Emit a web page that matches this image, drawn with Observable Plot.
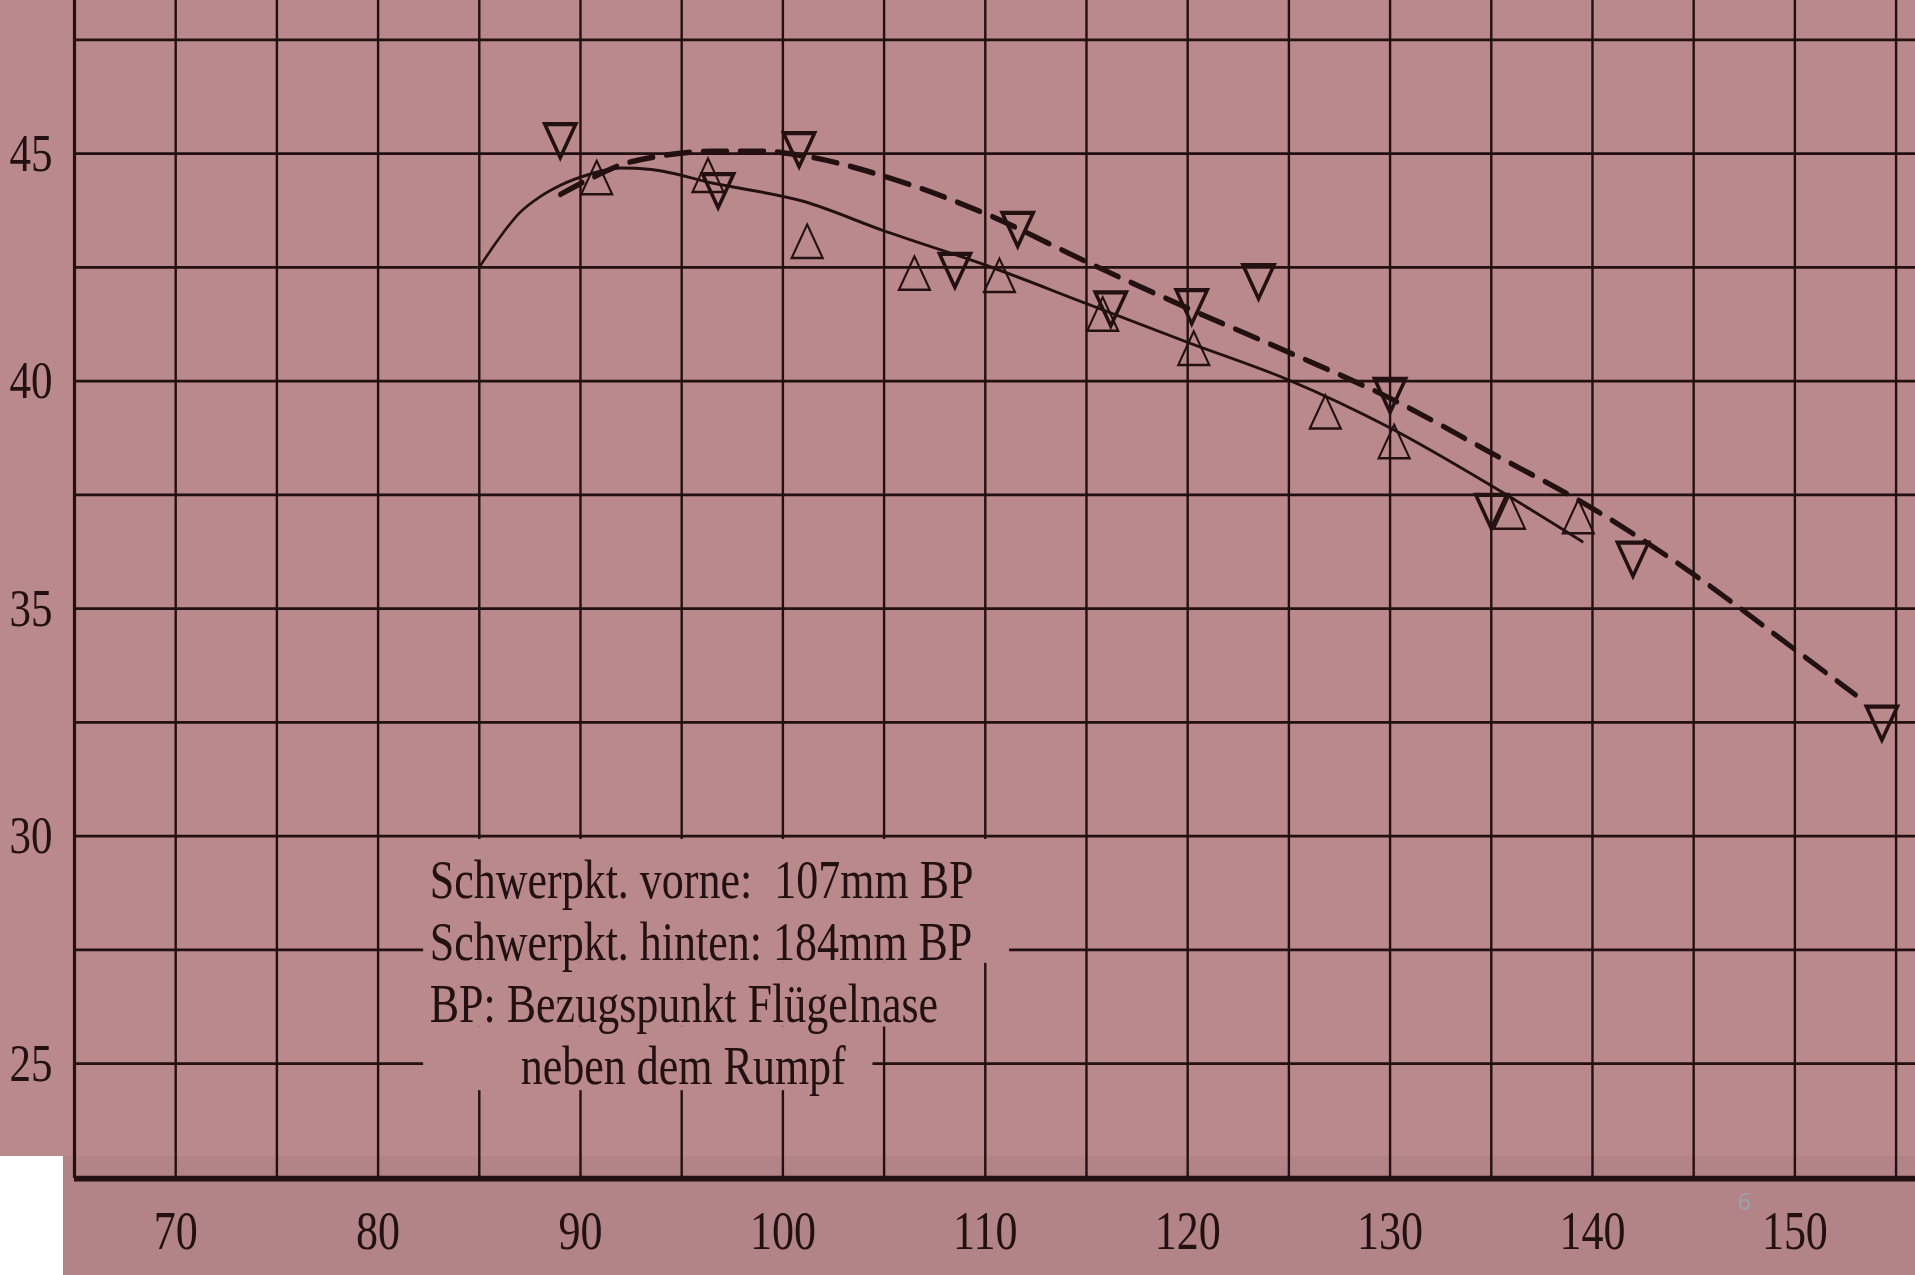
<!DOCTYPE html>
<html>
<head>
<meta charset="utf-8">
<script src="https://cdn.jsdelivr.net/npm/d3@7"></script>
<script src="https://cdn.jsdelivr.net/npm/@observablehq/plot@0.6"></script>
<style>
html, body { margin: 0; padding: 0; width: 1915px; height: 1275px; overflow: hidden; background: #ba898c; }
#strip { position: absolute; left: 63px; top: 1156px; width: 1852px; height: 119px; background: #b38487; }
#corner { position: absolute; left: 0; top: 1156px; width: 63px; height: 119px; background: #ffffff; }
#page { position: absolute; left: 1738px; top: 1190px; font: 23px "Noto Sans"; line-height: 1; color: #9ba2a7; }
#chart { position: absolute; left: 0; top: 0; width: 1915px; }
#chart svg { transform: scaleY(1.25); transform-origin: 0 0; background: transparent; max-width: none; }
</style>
</head>
<body>
<div id="strip"></div>
<div id="corner"></div>
<div id="page">6</div>
<div id="chart"></div>
<script>
// ---- data ----
const xGrid = [65, 70, 75, 80, 85, 90, 95, 100, 105, 110, 115, 120, 125, 130, 135, 140, 145, 150, 155];
const yGrid = [25, 27.5, 30, 32.5, 35, 37.5, 40, 42.5, 45, 47.5];
const xTicks = [70, 80, 90, 100, 110, 120, 130, 140, 150];
const yTicks = [25, 30, 35, 40, 45];

// solid curve (hand-drawn fit)
const solidX = [85, 86, 87, 88, 89, 90.5, 92, 93.5, 96.5, 101, 105, 110, 115, 120, 125, 130, 135, 139.5];
const solidY = [42.5, 43.15, 43.7, 44.05, 44.3, 44.55, 44.68, 44.65, 44.35, 43.95, 43.3, 42.55, 41.7, 40.85, 40.02, 38.97, 37.7, 36.47];

// dashed curve (hand-drawn fit)
const dashedX = [89, 90.5, 92, 94, 96.5, 99, 101, 105, 110, 115, 120, 125, 130, 135, 140, 145, 150, 153];
const dashedY = [44.1, 44.45, 44.75, 44.95, 45.05, 45.05, 44.95, 44.5, 43.68, 42.62, 41.6, 40.63, 39.62, 38.42, 37.2, 35.75, 34.1, 33.1];

// measured points, downward triangles
const downX = [89.0, 96.8, 100.8, 108.5, 111.6, 116.2, 120.2, 123.5, 130.0, 135.0, 142.0, 154.3];
const downY = [45.4, 44.3, 45.2, 42.55, 43.45, 41.7, 41.75, 42.3, 39.8, 37.25, 36.2, 32.6];

// measured points, upward triangles
const upX = [90.8, 96.3, 101.2, 106.5, 110.7, 115.8, 120.3, 126.8, 130.2, 135.9, 139.3];
const upY = [44.35, 44.4, 42.95, 42.25, 42.2, 41.35, 40.6, 39.2, 38.55, 37.0, 36.9];

const noteLines = [
  "Schwerpkt. vorne:\u00a0 107mm BP",
  "Schwerpkt. hinten: 184mm BP",
  "BP: Bezugspunkt Flügelnase",
  "neben dem Rumpf"
];

// ---- build tables ----
const solid = solidX.map((x, i) => ({x, y: solidY[i]}));
const dashed = dashedX.map((x, i) => ({x, y: dashedY[i]}));
const down = downX.map((x, i) => ({x, y: downY[i]}));
const up = upX.map((x, i) => ({x, y: upY[i]}));

const ink = "#231010";
const bg = "#ba898c";
const yMin = 22.47, yMax = 48.36;

const triangleDown = {
  draw(context, size) {
    const y = -Math.sqrt(size / (3 * Math.sqrt(3)));
    context.moveTo(0, -2 * y);
    context.lineTo(Math.sqrt(3) * y, y);
    context.lineTo(-Math.sqrt(3) * y, y);
    context.closePath();
  }
};

const chart = Plot.plot({
  width: 1915,
  height: 1020,
  marginLeft: 74,
  marginRight: 0,
  marginTop: 0,
  marginBottom: 77.6,
  x: {domain: [65, 155.96]},
  y: {domain: [yMin, yMax]},
  style: {background: "transparent", fontFamily: "Liberation Serif", color: ink},
  marks: [
    Plot.ruleY(yGrid, {stroke: ink, strokeWidth: 2.2}),
    Plot.ruleX(xGrid, {stroke: ink, strokeWidth: 2.4}),
    Plot.ruleX([65], {stroke: ink, strokeWidth: 3.2}),
    Plot.ruleY([yMin], {stroke: ink, strokeWidth: 4.5}),
    // blank box behind the note (grid hidden there)
    Plot.rect([
      {x1: 82.25, x2: 111.2, y1: 27.2, y2: 29.92},
      {x1: 82.25, x2: 109.45, y1: 25.8, y2: 27.2},
      {x1: 82.25, x2: 104.45, y1: 24.4, y2: 25.8}
    ], {x1: "x1", x2: "x2", y1: "y1", y2: "y2", fill: bg}),
    Plot.line(solid, {x: "x", y: "y", curve: "monotone-x", stroke: ink, strokeWidth: 2.4}),
    Plot.line(dashed, {x: "x", y: "y", curve: "monotone-x", stroke: ink, strokeWidth: 4.4, strokeDasharray: "24,13"}),
    Plot.dot(up, {x: "x", y: "y", symbol: "triangle", r: 11.5, fill: "none", stroke: ink, strokeWidth: 2}),
    Plot.dot(down, {x: "x", y: "y", symbol: triangleDown, r: 11.5, fill: "none", stroke: ink, strokeWidth: 3.4}),
    Plot.text(noteLines, {
      x: [82.55, 82.55, 82.55, 87.05],
      y: [28.64, 27.28, 25.92, 24.56],
      text: d => d,
      textAnchor: "start",
      lineAnchor: "bottom",
      fontSize: 44,
      fill: ink,
      fontFamily: "Liberation Serif"
    }),
    Plot.axisX({ticks: xTicks, tickSize: 0, tickPadding: 25, fontSize: 44, fill: ink, label: null, tickFormat: d => String(d), fontFamily: "Liberation Serif"}),
    Plot.axisY({ticks: yTicks, tickSize: 0, tickPadding: 22, fontSize: 43, fill: ink, label: null, tickFormat: d => String(d), fontFamily: "Liberation Serif"})
  ]
});

document.getElementById("chart").appendChild(chart);
</script>
</body>
</html>
